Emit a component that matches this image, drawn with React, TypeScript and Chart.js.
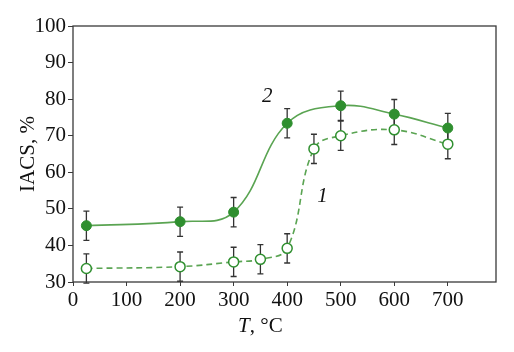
import React, { useEffect, useRef } from "react";
import { Chart, registerables } from "chart.js";
Chart.register(...registerables);

const tempsFilled = [25, 200, 300, 400, 500, 600, 700];
const iacsFilled = [45.4, 46.5, 49.1, 73.4, 78.2, 75.9, 72.1];
const errFilled = [4, 4, 4, 4, 4, 4, 4];

const tempsOpen = [25, 200, 300, 350, 400, 450, 500, 600, 700];
const iacsOpen = [33.7, 34.2, 35.5, 36.2, 39.2, 66.4, 70.0, 71.6, 67.7];
const errOpen = [4, 4, 4, 4, 4, 4, 4, 4, 4];

const xTicks = [0, 100, 200, 300, 400, 500, 600, 700];
const curveLabels = [
  { text: "2", x: 363, y: 80.6 },
  { text: "1", x: 466, y: 53.5 },
];

const FONT = "'Liberation Serif', 'Times New Roman', serif";
const FS = 21;
const GREEN_DARK = "#2f8f2f";
const GREEN_LINE = "#5aa452";
const AXIS = "#3a3a3a";

const errorBarPlugin = {
  id: "errbars",
  beforeDatasetsDraw(chart: any) {
    const ctx = chart.ctx;
    const xs = chart.scales.x;
    const ys = chart.scales.y;
    const sets = [
      { t: tempsFilled, v: iacsFilled, e: errFilled },
      { t: tempsOpen, v: iacsOpen, e: errOpen },
    ];
    ctx.save();
    ctx.strokeStyle = "#333333";
    ctx.lineWidth = 1.3;
    for (const s of sets) {
      s.t.forEach((t, i) => {
        const x = xs.getPixelForValue(t);
        const y1 = ys.getPixelForValue(s.v[i] + s.e[i]);
        const y2 = ys.getPixelForValue(s.v[i] - s.e[i]);
        ctx.beginPath();
        ctx.moveTo(x, y1);
        ctx.lineTo(x, y2);
        ctx.moveTo(x - 3, y1);
        ctx.lineTo(x + 3, y1);
        ctx.moveTo(x - 3, y2);
        ctx.lineTo(x + 3, y2);
        ctx.stroke();
      });
    }
    ctx.restore();
  },
  afterDraw(chart: any) {
    const ctx = chart.ctx;
    const a = chart.chartArea;
    const xs = chart.scales.x;
    const ys = chart.scales.y;
    ctx.save();
    ctx.strokeStyle = AXIS;
    ctx.lineWidth = 1.3;
    ctx.strokeRect(a.left, a.top, a.right - a.left, a.bottom - a.top);
    ctx.fillStyle = "#111";
    // curve labels
    ctx.font = `italic ${FS}px ${FONT}`;
    ctx.textAlign = "center";
    ctx.textBaseline = "middle";
    for (const l of curveLabels) {
      ctx.fillText(l.text, xs.getPixelForValue(l.x), ys.getPixelForValue(l.y));
    }
    // x title
    const cx = xs.getPixelForValue(350);
    const ty = 326;
    ctx.font = `italic ${FS}px ${FONT}`;
    const w1 = ctx.measureText("T").width;
    ctx.font = `${FS}px ${FONT}`;
    const w2 = ctx.measureText(", °C").width;
    const start = cx - (w1 + w2) / 2;
    ctx.textAlign = "left";
    ctx.font = `italic ${FS}px ${FONT}`;
    ctx.fillText("T", start, ty);
    ctx.font = `${FS}px ${FONT}`;
    ctx.fillText(", °C", start + w1, ty);
    // y title
    ctx.translate(28, (a.top + a.bottom) / 2);
    ctx.rotate(-Math.PI / 2);
    ctx.textAlign = "center";
    ctx.fillText("IACS, %", 0, 0);
    ctx.restore();
  },
};

export default function App() {
  const ref = useRef<HTMLCanvasElement>(null);
  useEffect(() => {
    document.body.style.margin = "0";
    const chart = new Chart(ref.current!, {
      type: "line",
      data: {
        datasets: [
          {
            data: tempsFilled.map((t, i) => ({ x: t, y: iacsFilled[i] })),
            borderColor: GREEN_LINE,
            borderWidth: 1.6,
            tension: 0.4,
            pointRadius: 5,
            pointBackgroundColor: GREEN_DARK,
            pointBorderColor: GREEN_DARK,
            pointBorderWidth: 1,
            fill: false,
          },
          {
            data: tempsOpen.map((t, i) => ({ x: t, y: iacsOpen[i] })),
            borderColor: GREEN_LINE,
            borderWidth: 1.6,
            borderDash: [6, 4],
            tension: 0.4,
            pointRadius: 5,
            pointBackgroundColor: "#ffffff",
            pointBorderColor: GREEN_DARK,
            pointBorderWidth: 1.5,
            fill: false,
          },
        ],
      },
      options: {
        animation: false,
        responsive: false,
        events: [],
        layout: { padding: { left: 0, right: 18, top: 26, bottom: 0 } },
        plugins: { legend: { display: false }, tooltip: { enabled: false } },
        scales: {
          x: {
            type: "linear",
            min: 0,
            max: 790,
            afterBuildTicks: (s: any) => {
              s.ticks = xTicks.map((v) => ({ value: v }));
            },
            afterFit: (s: any) => {
              s.height = 70;
            },
            border: { display: false },
            grid: { drawOnChartArea: false, drawTicks: true, tickLength: 4, color: AXIS },
            ticks: { color: "#111", font: { family: FONT, size: FS }, padding: 2, maxRotation: 0, autoSkip: false },
          },
          y: {
            min: 30,
            max: 100,
            afterFit: (s: any) => {
              s.width = 73;
            },
            border: { display: false },
            grid: { drawOnChartArea: false, drawTicks: true, tickLength: 5, color: AXIS },
            ticks: { stepSize: 10, color: "#111", font: { family: FONT, size: FS }, padding: 2 },
          },
        },
      },
      plugins: [errorBarPlugin],
    } as any);
    return () => chart.destroy();
  }, []);
  return (
    <div style={{ position: "absolute", left: 0, top: 0, width: 514, height: 352 }}>
      <canvas ref={ref} width={514} height={352} style={{ width: 514, height: 352 }} />
    </div>
  );
}
